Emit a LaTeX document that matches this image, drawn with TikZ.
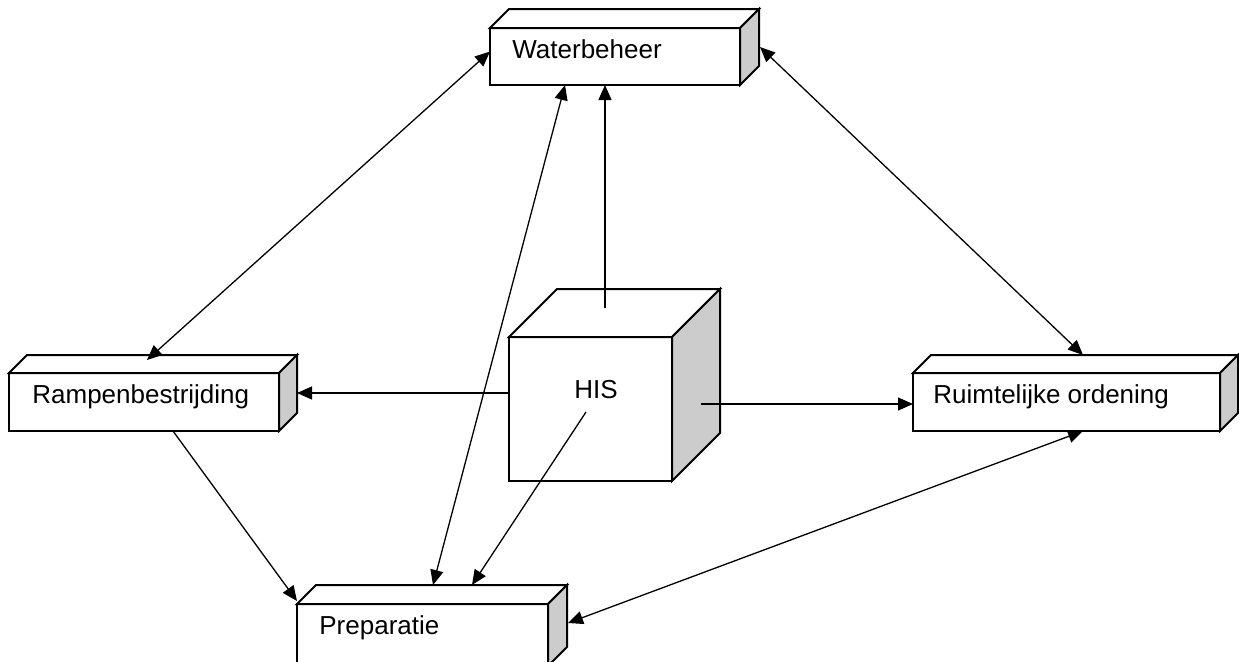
\documentclass[tikz,border=0pt]{standalone}
\usepackage{fontspec}
\setmainfont{Liberation Sans}
\usetikzlibrary{arrows.meta,calc}
\definecolor{sidegray}{HTML}{CCCCCC}
\tikzset{
  face/.style={draw, fill=white, line width=1pt, inner sep=0pt, outer sep=0pt, rectangle},
  lbl/.style={anchor=base west, inner sep=0pt, font=\fontsize{13}{15}\selectfont},
  conn/.style={line width=0.65pt, -{Triangle[length=7.5pt,width=6.5pt]}},
  biconn/.style={line width=0.65pt, {Triangle[length=7.5pt,width=6.5pt]}-{Triangle[length=7.5pt,width=6.5pt]}},
}
\newcommand\mycuboid[2]{%
  \draw[line width=1pt, fill=white] (#1.north west) -- ++(#2,-#2) -- ([shift={(#2,-#2)}]#1.north east) -- (#1.north east) -- cycle;
  \draw[line width=1pt, fill=sidegray] (#1.north east) -- ++(#2,-#2) -- ([shift={(#2,-#2)}]#1.south east) -- (#1.south east) -- cycle;
}
\begin{document}
\begin{tikzpicture}[x=0.5pt,y=-0.5pt]
\clip (0,0) rectangle (1239,661);
\fill[white] (0,0) rectangle (1239,661);
% boxes
\node[face, minimum width=125pt, minimum height=28.5pt] (wb) at (615,56.5) {};
\mycuboid{wb}{19}
\node[lbl] (wbt) at (512,58) {Waterbeheer};

\node[face, minimum width=135pt, minimum height=29pt] (rb) at (144,402) {};
\mycuboid{rb}{18}
\node[lbl] (rbt) at (32,403) {Rampenbestrijding};

\node[face, minimum width=81.5pt, minimum height=72pt] (his) at (590.5,409) {};
\mycuboid{his}{48}
\node[lbl] (hist) at (574,398) {HIS};

\node[face, minimum width=153.5pt, minimum height=29pt] (ro) at (1066.5,402) {};
\mycuboid{ro}{18}
\node[lbl] (rot) at (933,403) {Ruimtelijke ordening};

\node[face, minimum width=125.5pt, minimum height=31pt] (pr) at (422.5,635) {};
\mycuboid{pr}{19}
\node[lbl] (prt) at (319,634) {Preparatie};

% connectors
\draw[biconn] ($(wb.west)+(0,-5)$) -- ($(rb.north)+(3,-13)$);
\draw[biconn] ($(wb.south)+(-50,0)$) -- ($(pr.north)+(10.5,-19)$);
\draw[conn] ($(his.north)+(14.5,-29)$) -- ($(wb.south)+(-10,0)$);
\draw[conn] ($(his.west)+(0,-16)$) -- ($(rb.east)+(18,-9)$);
\draw[conn] ($(his.east)+(29,-5)$) -- ($(ro.west)+(0,2)$);
\draw[conn] ($(his.center)+(-4.5,3)$) -- ($(pr.north)+(49.5,-19)$);
\draw[biconn] ($(wb.east)+(20,-9.5)$) -- ($(ro.north)+(16.5,-18)$);
\draw[conn] ($(rb.south)+(29,0)$) -- ($(pr.north west)+(0,-3)$);
\draw[biconn] ($(ro.south)+(16.5,0)$) -- ($(pr.east)+(20,-12)$);
\end{tikzpicture}
\end{document}
